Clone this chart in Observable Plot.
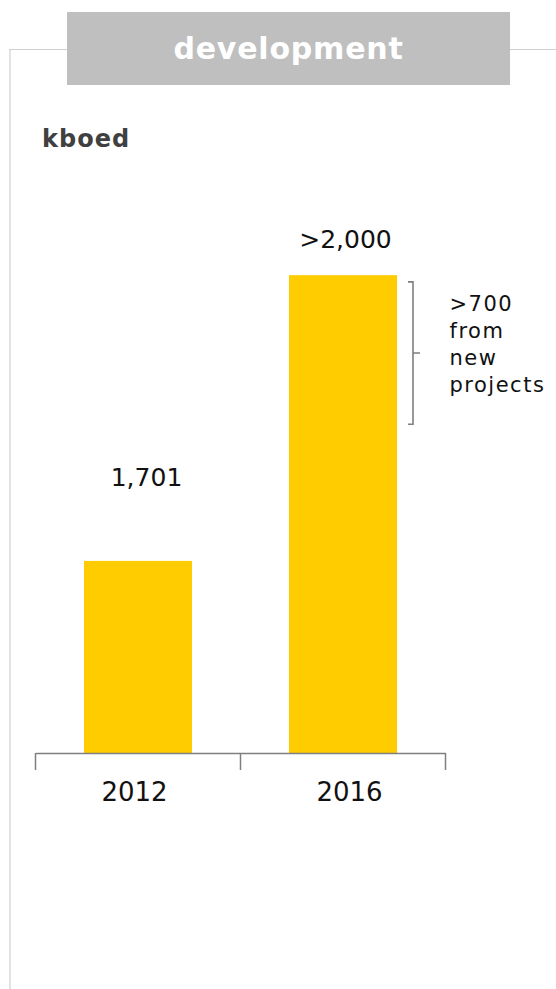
<!DOCTYPE html>
<html>
<head>
<meta charset="utf-8">
<script src="https://cdn.jsdelivr.net/npm/d3@7"></script>
<script src="https://cdn.jsdelivr.net/npm/@observablehq/plot@0.6"></script>
<style>
  body { margin: 0; background: #fff; }
  #wrap { position: relative; width: 556px; height: 989px; overflow: hidden; font-family: "DejaVu Sans", sans-serif; }
  #wrap svg { position: absolute; left: 0; top: 0; }
  #wrap svg g[font-size="21"] { letter-spacing: 1.5px; }
  .vline { position: absolute; left: 9px; top: 49px; width: 2px; height: 940px; background: #e3e3e3; }
  .hline { position: absolute; left: 9px; top: 49px; width: 547px; height: 1px; background: #d0d0d0; }
  .head { position: absolute; left: 67px; top: 12px; width: 443px; height: 73px; background: #bfbfbf; color: #fff;
          font-weight: bold; font-size: 30px; letter-spacing: 0.8px; text-align: center; line-height: 73px; }
  .unit { position: absolute; left: 42px; top: 127px; font-weight: bold; font-size: 24px; line-height: 24px;
          color: #404040; letter-spacing: 1px; }
</style>
</head>
<body>
<div id="wrap"></div>
<script>
// ---- data ----
const years = ["2012", "2016"];
const values = [1701, 2000];
const valueLabels = ["1,701", ">2,000"];
const unitLabel = "kboed";
const titleText = "development";
const noteLines = [">700", "from", "new", "projects"];
const bracketRange = [1844, 1993]; // extent of the ">700" bracket, kboed
const yBase = 1500;                 // truncated axis start
const yTop = 2200;

const data = years.map((year, i) => ({year, value: values[i], label: valueLabels[i]}));

function bandTicks(index, scales, channels, dims) {
  const x = scales.x, y = scales.y;
  const y0 = y(yBase);
  let pos;
  if (x.step && x.bandwidth) {
    const step = x.step(), bw = x.bandwidth();
    pos = years.map(d => x(d) - (step - bw) / 2);
    pos.push(x(years[years.length - 1]) + bw + (step - bw) / 2);
  } else {
    const l = dims.marginLeft, r = dims.width - dims.marginRight;
    pos = [l, (l + r) / 2, r];
  }
  const g = d3.create("svg:g").attr("stroke", "#7f7f7f").attr("stroke-width", 1.5);
  for (const p of pos) g.append("line").attr("x1", p).attr("x2", p).attr("y1", y0).attr("y2", y0 + 17);
  return g.node();
}

function bracket(index, scales, channels, dims) {
  const x = scales.x, y = scales.y;
  const bw = x.bandwidth ? x.bandwidth() : 108;
  const bx = x(years[1]) + bw + 16;
  const yA = y(bracketRange[1]), yB = y(bracketRange[0]), yM = (yA + yB) / 2;
  const g = d3.create("svg:g").attr("stroke", "#7f7f7f").attr("stroke-width", 1.6).attr("fill", "none");
  g.append("path").attr("d", `M${bx - 5},${yA}H${bx}V${yB}H${bx - 5}M${bx},${yM}H${bx + 7}`);
  return g.node();
}

const chart = Plot.plot({
  width: 556,
  height: 989,
  marginTop: 84,
  marginBottom: 236,
  marginLeft: 36,
  marginRight: 110,
  style: {fontFamily: "DejaVu Sans, sans-serif", background: "transparent"},
  x: {type: "band", domain: years, paddingInner: 0.473, paddingOuter: 0.2365, axis: null},
  y: {domain: [yBase, yTop], axis: null},
  marks: [
    Plot.barY(data, {x: "year", y1: yBase, y2: "value", fill: "#ffcc00"}),
    Plot.ruleY([yBase], {stroke: "#7f7f7f", strokeWidth: 1.5}),
    bandTicks,
    Plot.text(data.filter(d => d.year === "2012"), {x: "year", y: yBase, text: "year", dx: -4, dy: 39, lineAnchor: "middle", fontSize: 26, fill: "#111"}),
    Plot.text(data.filter(d => d.year === "2016"), {x: "year", y: yBase, text: "year", dx: 6, dy: 39, lineAnchor: "middle", fontSize: 26, fill: "#111"}),
    Plot.text(data.filter(d => d.year === "2012"), {x: "year", y: "value", text: "label", dx: 8, dy: -83, lineAnchor: "middle", fontSize: 25, fill: "#111"}),
    Plot.text(data.filter(d => d.year === "2016"), {x: "year", y: "value", text: "label", dx: 2, dy: -36, lineAnchor: "middle", fontSize: 25, fill: "#111"}),
    bracket,
    Plot.text([noteLines.join("\n")], {x: () => years[1], y: () => bracketRange[1], text: d => d, textAnchor: "start", lineAnchor: "top", lineHeight: 1.28, fontSize: 21, dx: 106, dy: 10, fill: "#111"})
  ]
});

const wrap = document.getElementById("wrap");
wrap.appendChild(chart);
const v = document.createElement("div"); v.className = "vline"; wrap.appendChild(v);
const h = document.createElement("div"); h.className = "hline"; wrap.appendChild(h);
const head = document.createElement("div"); head.className = "head"; head.textContent = titleText; wrap.appendChild(head);
const unit = document.createElement("div"); unit.className = "unit"; unit.textContent = unitLabel; wrap.appendChild(unit);
</script>
</body>
</html>
